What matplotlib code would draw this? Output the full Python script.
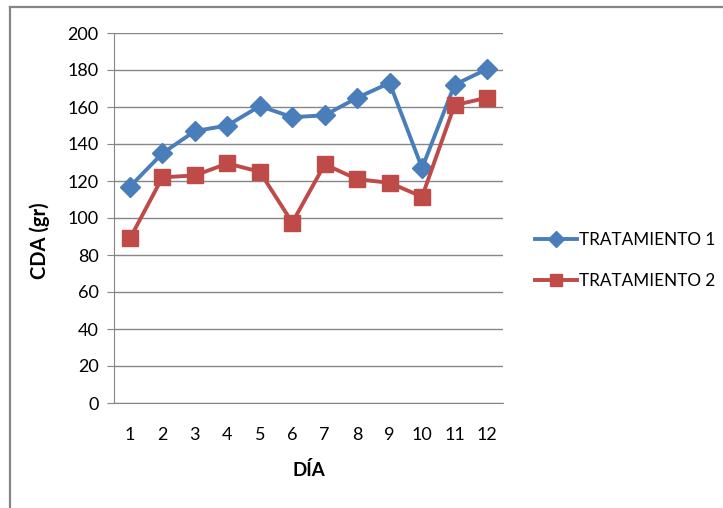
import numpy as np
import matplotlib.pyplot as plt
from matplotlib.lines import Line2D

# data
dias = [1, 2, 3, 4, 5, 6, 7, 8, 9, 10, 11, 12]
tratamiento1 = [117, 135, 147, 150, 160.5, 154.5, 155.5, 165, 173, 127, 172, 180.5]
tratamiento2 = [89, 122, 123, 129.5, 125, 97.5, 129, 121, 119, 111.5, 161, 165]
yticks = [0, 20, 40, 60, 80, 100, 120, 140, 160, 180, 200]

blue = "#4A7EBB"
red = "#BE4B48"
gray = "#868686"
plt.rcParams['font.family'] = ['Lato', 'DejaVu Sans']

W, H = 723, 508
fig = plt.figure(figsize=(W/100, H/100), dpi=100)

# outer chart frame (only top and left visible)
fig.add_artist(Line2D([9.5/W, 9.5/W], [0, 1-7/H], transform=fig.transFigure, color=gray, lw=1.6))
fig.add_artist(Line2D([9.5/W, 1], [1-7/H, 1-7/H], transform=fig.transFigure, color=gray, lw=1.6))

ax = fig.add_axes([113.8/W, 1-403/H, (503.2-113.8)/W, (403-33)/H])
ax.set_xlim(0.5, 12.5)
ax.set_ylim(0, 200)

ax.plot(dias, tratamiento1, color=blue, lw=2.8, marker="D", ms=10.5, label="TRATAMIENTO 1", zorder=3)
ax.plot(dias, tratamiento2, color=red, lw=2.8, marker="s", ms=11, label="TRATAMIENTO 2", zorder=3)

ax.set_yticks(yticks)
ax.set_xticks(dias)
ax.grid(axis="y", color=gray, lw=1)
ax.set_axisbelow(True)
for s in ["top", "right"]:
    ax.spines[s].set_visible(False)
ax.spines["left"].set_color(gray)
ax.spines["bottom"].set_color(gray)
ax.tick_params(axis="y", length=5, color=gray, labelsize=13, pad=6)
ax.tick_params(axis="x", length=0, labelsize=13, pad=17)

ax.set_ylabel("CDA (gr)", fontsize=14.5, fontweight="bold")
ax.yaxis.set_label_coords(-0.164, 0.44)
ax.set_xlabel("DÍA", fontsize=13.5, fontweight="bold", labelpad=13)

ax.legend(loc="center left", bbox_to_anchor=(1.082, 0.386), frameon=False, fontsize=12.3,
          borderpad=0, borderaxespad=0, handlelength=2.45, handletextpad=0.1,
          labelspacing=1.45, markerscale=0.8)

fig.savefig("out.png", dpi=100)
